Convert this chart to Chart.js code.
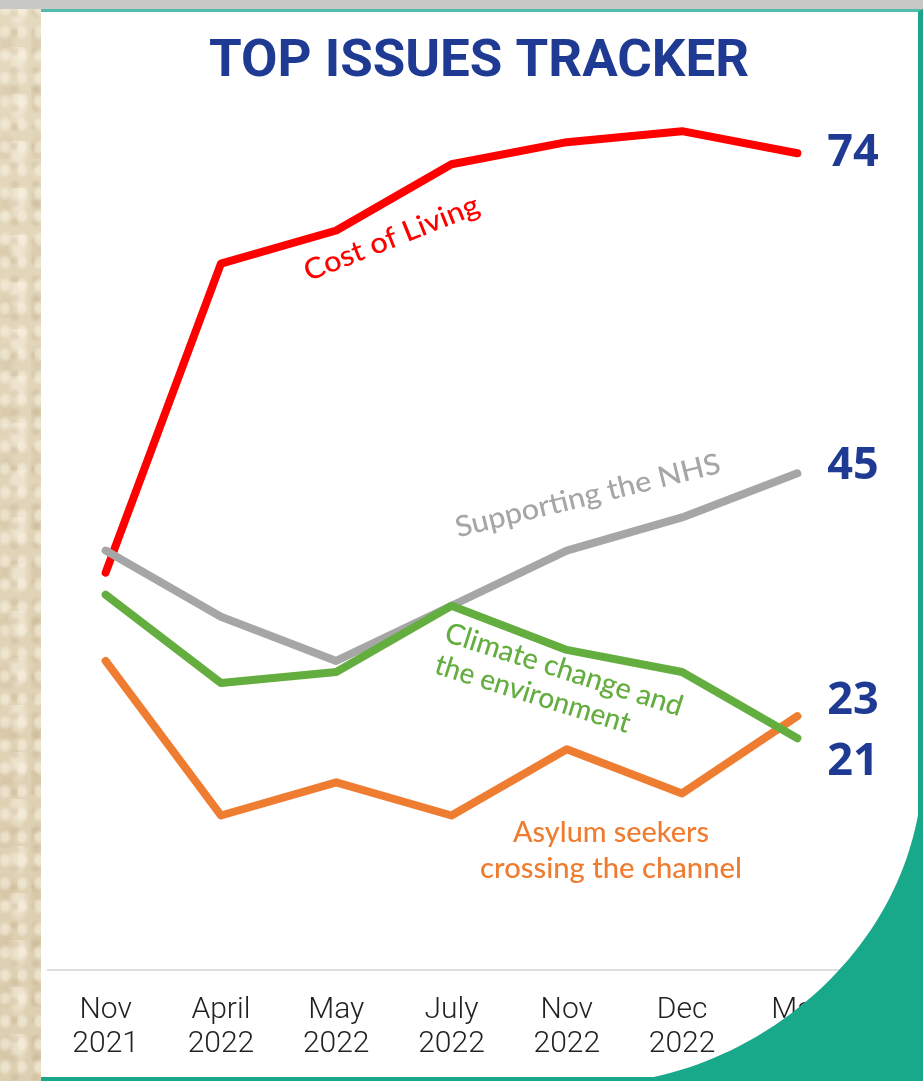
<!DOCTYPE html>
<html>
<head>
<meta charset="utf-8">
<script src="https://cdn.jsdelivr.net/npm/chart.js@4.4.1/dist/chart.umd.min.js"></script>
<style>
  html, body { margin: 0; padding: 0; }
  body { width: 923px; height: 1081px; position: relative; overflow: hidden; background: #e3d6b9; }
  #paper {
    position: absolute; left: 0; top: 0; width: 42px; height: 1081px;
    background-color: #e2d5b8;
    background-image:
      radial-gradient(ellipse at 30% 40%, rgba(250,244,228,.55) 0 3px, transparent 7px),
      radial-gradient(ellipse at 70% 70%, rgba(170,145,105,.18) 0 2px, transparent 6px),
      radial-gradient(ellipse at 50% 20%, rgba(255,250,238,.40) 0 5px, transparent 11px),
      radial-gradient(ellipse at 20% 80%, rgba(180,155,115,.16) 0 4px, transparent 10px),
      linear-gradient(180deg, rgba(255,255,255,.08), rgba(160,130,90,.08));
    background-size: 17px 23px, 21px 19px, 37px 47px, 31px 53px, 100% 100%;
  }
  #topbar { position: absolute; left: 0; top: 0; width: 923px; height: 9px; background: #c8c8c6; }
  #panel {
    position: absolute; left: 41px; top: 9px; width: 882px; height: 1072px;
    background: #ffffff; box-sizing: border-box;
    border-top: 3px solid #52bcac; border-right: 5px solid #1aa68b; border-bottom: 4px solid #1aa88a;
  }
  #chart { position: absolute; left: 0; top: 0; }
  #corner { position: absolute; left: 0; top: 0; pointer-events: none; }
</style>
</head>
<body>
<div id="paper"></div>
<div id="topbar"></div>
<div id="panel"></div>
<canvas id="chart" width="923" height="1081"></canvas>
<svg id="corner" width="923" height="1081" viewBox="0 0 923 1081">
  <path d="M923,772 C915,950 760,1065 630,1081 L923,1081 Z" fill="#18a88a"/>
</svg>
<script>
// Survey waves (two-line tick labels)
const periods = [
  ['Nov', '2021'], ['April', '2022'], ['May', '2022'], ['July', '2022'],
  ['Nov', '2022'], ['Dec', '2022'], ['Mar', '2023']
];

// Share naming each issue (%)
const costOfLiving  = [36, 64, 67, 73, 75, 76, 74];
const supportingNHS = [38, 32, 28, 33, 38, 41, 45];
const climateChange = [34, 26, 27, 33, 29, 27, 21];
const asylumSeekers = [28, 14, 17, 14, 20, 16, 23];

const chartTitle = 'TOP ISSUES TRACKER';
const seriesNames = {
  cost: ['Cost of Living'],
  nhs: ['Supporting the NHS'],
  climate: ['Climate change and', 'the environment'],
  asylum: ['Asylum seekers', 'crossing the channel']
};

const COLORS = {
  cost: '#ff0000',
  nhs: '#a6a6a6',
  climate: '#64ad3f',
  asylum: '#ef7d31',
  navy: '#1f3a93'
};

function lineSet(label, data, color) {
  return {
    label, data,
    borderColor: color, backgroundColor: color,
    borderWidth: 8, pointRadius: 0, pointHoverRadius: 0,
    tension: 0, fill: false,
    borderCapStyle: 'round', borderJoinStyle: 'round'
  };
}

// Draw text squeezed/stretched horizontally to a given width
function drawFitted(ctx, text, x, y, angleDeg, width, font, color, align) {
  ctx.save();
  ctx.font = font;
  ctx.fillStyle = color;
  ctx.textBaseline = 'alphabetic';
  ctx.textAlign = align || 'center';
  ctx.translate(x, y);
  ctx.rotate(angleDeg * Math.PI / 180);
  const w = ctx.measureText(text).width;
  ctx.scale(width / w, 1);
  ctx.fillText(text, 0, 0);
  ctx.restore();
}

const annotations = {
  id: 'annotations',
  afterDatasetsDraw(chart) {
    const ctx = chart.ctx;
    const xs = chart.scales.x, ys = chart.scales.y;
    const last = periods.length - 1;

    // Title
    drawFitted(ctx, chartTitle, 479, 76, 0, 540, 'bold 52px Roboto, "Liberation Sans", sans-serif', COLORS.navy, 'center');

    // End-of-line values
    const endX = xs.getPixelForValue(last) + 30;
    const ends = [
      [costOfLiving[last], 0],
      [supportingNHS[last], -7],
      [asylumSeekers[last], -15],
      [climateChange[last], 24]
    ];
    ctx.save();
    ctx.font = 'bold 45px "Open Sans", "DejaVu Sans", sans-serif';
    ctx.fillStyle = COLORS.navy;
    ctx.textAlign = 'left';
    ctx.textBaseline = 'middle';
    ends.forEach(([v, dy]) => {
      ctx.fillText(String(v), endX, ys.getPixelForValue(v) + dy);
    });
    ctx.restore();

    const f = '500 29px Lato, "Open Sans", sans-serif';
    // Series names
    drawFitted(ctx, seriesNames.cost[0], 395, 247, -21.7, 186, f, COLORS.cost, 'center');
    drawFitted(ctx, seriesNames.nhs[0], 590, 505, -13.8, 272, f, COLORS.nhs, 'center');
    drawFitted(ctx, seriesNames.climate[0], 443, 641, 17.7, 248, f, COLORS.climate, 'left');
    drawFitted(ctx, seriesNames.climate[1], 433, 673, 17.3, 203, f, COLORS.climate, 'left');
    drawFitted(ctx, seriesNames.asylum[0], 611, 842, 0, 196, f, COLORS.asylum, 'center');
    drawFitted(ctx, seriesNames.asylum[1], 611, 878, 0, 262, f, COLORS.asylum, 'center');
  }
};

new Chart(document.getElementById('chart'), {
  type: 'line',
  data: {
    labels: periods,
    datasets: [
      lineSet('Climate change and the environment', climateChange, COLORS.climate),
      lineSet('Supporting the NHS', supportingNHS, COLORS.nhs),
      lineSet('Asylum seekers crossing the channel', asylumSeekers, COLORS.asylum),
      lineSet('Cost of Living', costOfLiving, COLORS.cost)
    ]
  },
  options: {
    responsive: false,
    animation: false,
    devicePixelRatio: 1,
    layout: { padding: { left: 48, right: 68, top: 87, bottom: 0 } },
    plugins: { legend: { display: false }, tooltip: { enabled: false }, title: { display: false } },
    scales: {
      x: {
        offset: true,
        grid: { display: false },
        border: { display: true, color: '#dedede', width: 2 },
        ticks: {
          color: '#222222',
          padding: 15,
          maxRotation: 0,
          autoSkip: false,
          font: { family: 'Roboto, sans-serif', size: 30, weight: 300, lineHeight: 1.15 }
        },
        afterFit(scale) { scale.height = 111; }
      },
      y: { display: false, min: 0, max: 80 }
    }
  },
  plugins: [annotations]
});
</script>
</body>
</html>
